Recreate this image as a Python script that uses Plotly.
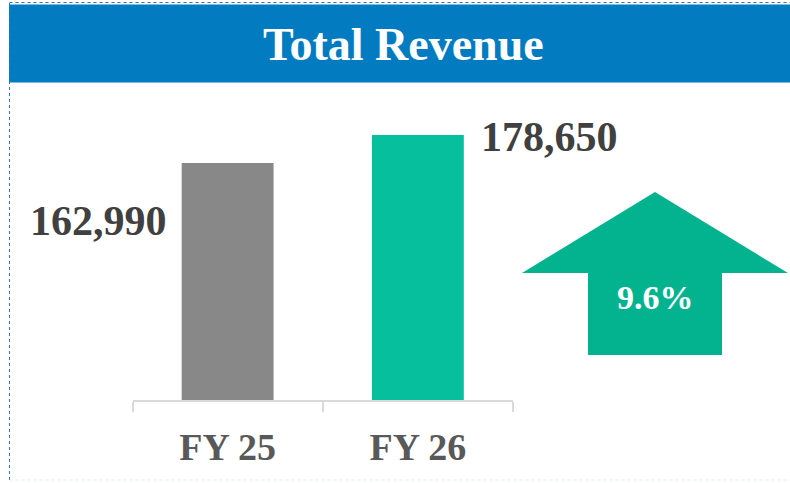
import plotly.graph_objects as go

# ---- data ----
categories = ["FY 25", "FY 26"]
revenue = [162990, 178650]
bar_colors = ["#888888", "#06BF9C"]
title_text = "Total Revenue"

growth = (revenue[1] / revenue[0] - 1) * 100
growth_label = f"{growth:.1f}%"

W, H = 790, 483


def px(x):
    return x / W


def py(y):
    return 1 - y / H


fig = go.Figure()
fig.add_trace(go.Bar(
    x=categories, y=revenue,
    marker=dict(color=bar_colors, line=dict(width=0)),
    width=0.483, hoverinfo="skip",
))

serif = "Liberation Serif, Times New Roman, serif"

shapes = []
# title bar
shapes.append(dict(type="rect", xref="paper", yref="paper",
                   x0=px(9), x1=px(790), y0=py(82.5), y1=py(4.5),
                   fillcolor="#027BC1", line=dict(width=0), layer="below"))
# dotted frame
shapes.append(dict(type="line", xref="paper", yref="paper",
                   x0=px(9.5), x1=px(9.5), y0=py(3), y1=py(480),
                   line=dict(color="#2E75B6", width=1, dash="dot")))
shapes.append(dict(type="line", xref="paper", yref="paper",
                   x0=px(9.5), x1=px(790), y0=py(2.5), y1=py(2.5),
                   line=dict(color="#2E75B6", width=1, dash="dot")))
shapes.append(dict(type="line", xref="paper", yref="paper",
                   x0=px(9.5), x1=px(790), y0=py(480), y1=py(480),
                   line=dict(color="#DDEBF7", width=1, dash="dot")))
# up arrow (decoration)
arrow_pts = [(655, 192), (788, 273), (722, 273), (722, 355),
             (588, 355), (588, 273), (522, 273)]
path = "M " + " L ".join(f"{px(x)},{py(y)}" for x, y in arrow_pts) + " Z"
shapes.append(dict(type="path", xref="paper", yref="paper", path=path,
                   fillcolor="#03B38F", line=dict(width=0)))

annotations = [
    dict(text=f"<b>{title_text}</b>", xref="paper", yref="paper",
         x=px(403), y=py(44), xanchor="center", yanchor="middle",
         showarrow=False, font=dict(family=serif, size=46, color="white")),
    dict(text=f"<b>{revenue[0]:,}</b>", xref="x", yref="y",
         x=categories[0], y=revenue[0], xanchor="right", yanchor="middle",
         xshift=-59, yshift=-58, showarrow=False,
         font=dict(family=serif, size=42, color="#404040")),
    dict(text=f"<b>{revenue[1]:,}</b>", xref="x", yref="y",
         x=categories[1], y=revenue[1], xanchor="left", yanchor="middle",
         xshift=61, yshift=-2, showarrow=False,
         font=dict(family=serif, size=42, color="#404040")),
    dict(text=f"<b>{growth_label}</b>", xref="paper", yref="paper",
         x=px(655), y=py(297), xanchor="center", yanchor="middle",
         showarrow=False, font=dict(family=serif, size=34, color="white")),
]

fig.update_layout(
    width=W, height=H,
    margin=dict(l=0, r=0, t=0, b=0),
    paper_bgcolor="white", plot_bgcolor="white",
    showlegend=False,
    shapes=shapes, annotations=annotations,
    xaxis=dict(domain=[px(132.5), px(513)], type="category",
               range=[-0.5, len(categories) - 0.5], autorange=False,
               showline=True, linecolor="#D9D9D9", linewidth=2,
               ticks="outside", tickson="boundaries", ticklen=10,
               tickcolor="#D9D9D9", tickwidth=2,
               showgrid=False, zeroline=False,
               tickfont=dict(family=serif, size=38, color="#595959"),
               tickprefix="<b>", ticksuffix="</b>",
               ticklabelstandoff=12),
    yaxis=dict(domain=[py(400), py(100)], range=[30000, 198350],
               autorange=False,
               visible=False, showgrid=False, zeroline=False),
)

fig.write_html("out.html",
               config={"displayModeBar": False, "staticPlot": True},
               post_script="document.body.style.margin='0';document.body.style.overflow='hidden';")
